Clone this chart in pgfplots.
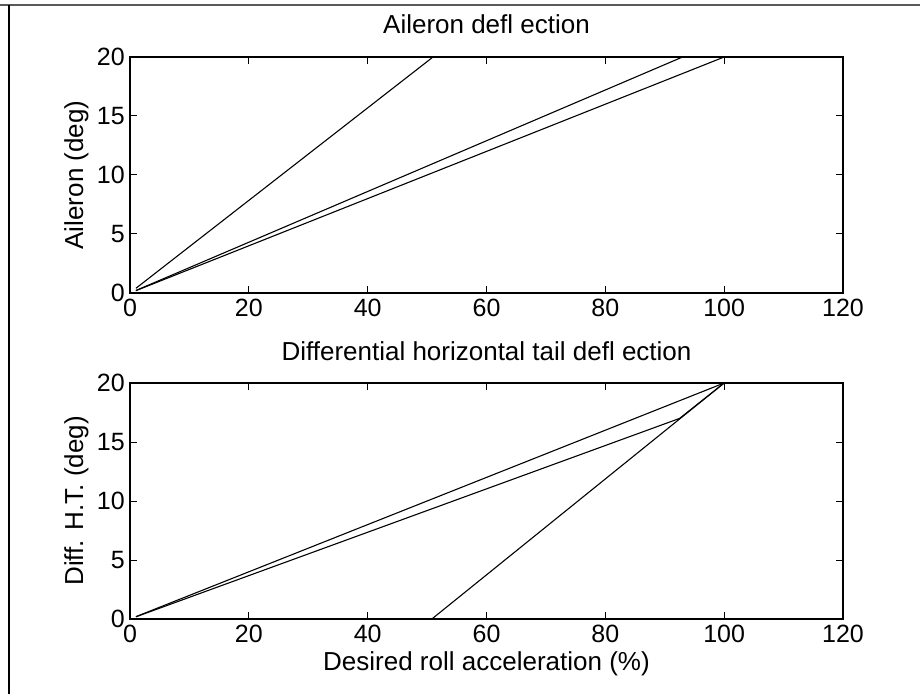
\documentclass[border=0pt]{standalone}
\usepackage{pgfplots}
\pgfplotsset{compat=1.18}
\usepackage{fontspec}
\setmainfont{Liberation Sans}

\pgfplotsset{
  ln/.style={black, solid, line width=1.1pt, mark=none},
  mystyle/.style={
    scale only axis, width=713pt, height=236pt,
    xmin=0, xmax=120, ymin=0, ymax=20,
    xtick={0,20,...,120}, ytick={0,5,...,20},
    tick align=inside, major tick length=7pt,
    axis line style={line width=1.2pt},
    every tick/.style={black, line width=1pt},
    /pgf/number format/assume math mode=true,
    tick label style={font=\fontsize{25}{25}\selectfont, inner sep=5pt},
    xticklabel style={inner ysep=1pt, yshift=-5pt},
    every axis title/.style={at={(axis description cs:0.5,1)}, anchor=base, yshift=23pt, font=\fontsize{26}{26}\selectfont},
    every axis x label/.style={at={(axis description cs:0.5,0)}, anchor=base, inner sep=1pt, yshift=-51pt, font=\fontsize{26}{26}\selectfont},
    every axis y label/.style={at={(axis description cs:0,0.5)}, xshift=-47pt, rotate=90, anchor=base, font=\fontsize{26}{26}\selectfont},
    clip=false,
  }
}

\begin{document}
\begin{tikzpicture}
\useasboundingbox (0,0) rectangle (920pt,694pt);
\fill[white] (0,0) rectangle (920pt,694pt);
\draw[line width=2pt, black!65] (0,689pt) -- (920pt,689pt);
\draw[line width=1.4pt, black] (9pt,0) -- (9pt,689pt);

\begin{axis}[mystyle, at={(130pt,401pt)}, anchor=south west,
  title={Aileron defl ection}, ylabel={Aileron (deg)}]
\addplot[ln] table {
x y
1 0.4
51 20
120 20
};
\addplot[ln] table {
x y
1 0.215
93 20
120 20
};
\addplot[ln] table {
x y
1 0.2
100 20
120 20
};
\end{axis}

\begin{axis}[mystyle, at={(130pt,75pt)}, anchor=south west,
  title={Differential horizontal tail defl ection}, ylabel={Diff. H.T. (deg)},
  xlabel={Desired roll acceleration (\%)}]
\addplot[ln] table {
x y
1 0.2
100 20
};
\addplot[ln] table {
x y
1 0.185
92.5 17.0
100 20
};
\addplot[ln] table {
x y
1 0
50.8 0
100 20
};
\end{axis}
\end{tikzpicture}
\end{document}
